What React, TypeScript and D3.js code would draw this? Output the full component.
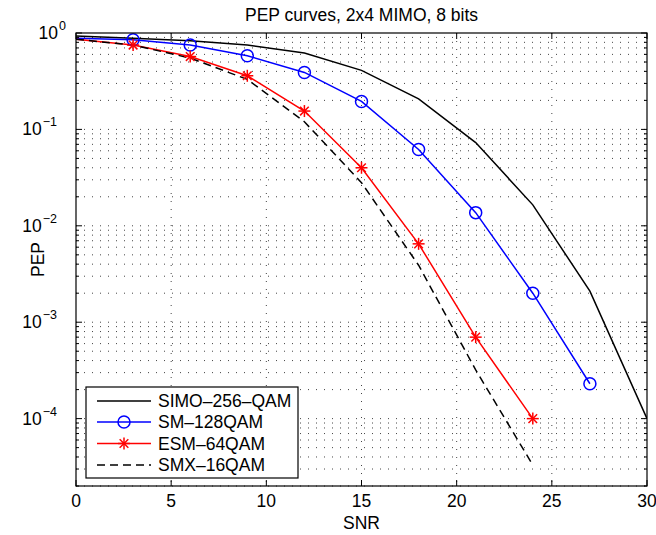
import React from 'react';
import * as d3 from 'd3';

// SNR values
const snrSimo = [0, 3, 6, 9, 12, 15, 18, 21, 24, 27, 30];
const simo = [0.93, 0.88, 0.83, 0.75, 0.62, 0.41, 0.207, 0.073, 0.0165, 0.0021, 0.0001];

const snrSm = [0, 3, 6, 9, 12, 15, 18, 21, 24, 27];
const sm = [0.88, 0.85, 0.75, 0.58, 0.39, 0.195, 0.062, 0.0137, 0.002, 0.00023];

const snrEsm = [0, 3, 6, 9, 12, 15, 18, 21, 24];
const esm = [0.86, 0.75, 0.57, 0.36, 0.155, 0.04, 0.0065, 0.0007, 0.0001];

const snrSmx = [0, 3, 6, 9, 12, 15, 18, 21, 24];
const smx = [0.86, 0.75, 0.55, 0.33, 0.12, 0.028, 0.0039, 0.00032, 0.000033];

const xTicks = [0, 5, 10, 15, 20, 25, 30];
const yDecades = [0, -1, -2, -3, -4];
const legendLabels = ['SIMO–256–QAM', 'SM–128QAM', 'ESM–64QAM', 'SMX–16QAM'];

const width = 656, height = 535;
const margin = { top: 33, right: 9, bottom: 49, left: 76 };
const FONT = 'Liberation Sans, Arial, sans-serif';
const FS = 17.5;

const x = d3.scaleLinear().domain([0, 30]).range([margin.left, width - margin.right]);
const y = d3.scaleLog().domain([2e-5, 1]).range([height - margin.bottom, margin.top]);

const line = d3.line<[number, number]>().x(d => x(d[0])).y(d => y(d[1]));
const zip = (a: number[], b: number[]) => a.map((v, i) => [v, b[i]] as [number, number]);

const Star = ({ cx, cy, r = 6, color }: { cx: number; cy: number; r?: number; color: string }) => {
  const d = r * 0.72;
  return (
    <g stroke={color} strokeWidth={1.5}>
      <line x1={cx - r} x2={cx + r} y1={cy} y2={cy} />
      <line x1={cx} x2={cx} y1={cy - r} y2={cy + r} />
      <line x1={cx - d} x2={cx + d} y1={cy - d} y2={cy + d} />
      <line x1={cx - d} x2={cx + d} y1={cy + d} y2={cy - d} />
    </g>
  );
};

export default function App() {
  const [x0, x1] = x.range();
  const [yb, yt] = y.range();

  // minor y grid values
  const minors: number[] = [];
  for (let k = -5; k <= -1; k++) {
    for (let m = 2; m <= 9; m++) {
      const v = m * Math.pow(10, k);
      if (v >= 2e-5 && v < 1) minors.push(v);
    }
  }
  const majors = yDecades.map(e => Math.pow(10, e));

  const grid = { stroke: '#444', strokeWidth: 1, strokeDasharray: '1,7' };

  const legX = 86, legY = 387, legW = 212, legH = 91;
  const rowY = [401, 422, 443.5, 465];

  return (
    <div style={{ position: 'absolute', left: 0, top: 0 }}>
      <svg width={width} height={height} style={{ display: 'block', background: '#fff' }} fontFamily={FONT}>
        <defs>
          <clipPath id="plot">
            <rect x={x0} y={yt} width={x1 - x0} height={yb - yt} />
          </clipPath>
        </defs>
        <rect x={x0} y={yt} width={x1 - x0} height={yb - yt} fill="#fff" />

        {/* grid */}
        {xTicks.slice(1, -1).map(t => (
          <line key={'gx' + t} x1={x(t)} x2={x(t)} y1={yt} y2={yb} {...grid} />
        ))}
        {[...minors, ...majors.slice(1)].map(v => (
          <line key={'gy' + v} x1={x0} x2={x1} y1={y(v)} y2={y(v)} {...grid} />
        ))}

        {/* series */}
        <g clipPath="url(#plot)" fill="none">
          <path d={line(zip(snrSimo, simo)) || ''} stroke="#000" strokeWidth={1.5} />
          <path d={line(zip(snrSm, sm)) || ''} stroke="#0000ff" strokeWidth={1.5} />
          <path d={line(zip(snrEsm, esm)) || ''} stroke="#ff0000" strokeWidth={1.5} />
          <path d={line(zip(snrSmx, smx)) || ''} stroke="#000" strokeWidth={1.5} strokeDasharray="8,5" />
        </g>
        {snrSm.slice(1).map((s, i) => (
          <circle key={'c' + s} cx={x(s)} cy={y(sm[i + 1])} r={6} fill="none" stroke="#0000ff" strokeWidth={1.5} />
        ))}
        {snrEsm.slice(1).map((s, i) => (
          <Star key={'s' + s} cx={x(s)} cy={y(esm[i + 1])} color="#ff0000" />
        ))}

        {/* ticks */}
        {xTicks.map(t => (
          <g key={'xt' + t} stroke="#000">
            <line x1={x(t)} x2={x(t)} y1={yb} y2={yb - 6} />
            <line x1={x(t)} x2={x(t)} y1={yt} y2={yt + 6} />
          </g>
        ))}
        {majors.map(v => (
          <g key={'ytM' + v} stroke="#000">
            <line x1={x0} x2={x0 + 6} y1={y(v)} y2={y(v)} />
            <line x1={x1} x2={x1 - 6} y1={y(v)} y2={y(v)} />
          </g>
        ))}
        {minors.map(v => (
          <g key={'ytm' + v} stroke="#000">
            <line x1={x0} x2={x0 + 3} y1={y(v)} y2={y(v)} />
            <line x1={x1} x2={x1 - 3} y1={y(v)} y2={y(v)} />
          </g>
        ))}

        {/* frame */}
        <rect x={x0} y={yt} width={x1 - x0} height={yb - yt} fill="none" stroke="#000" strokeWidth={1.2} />

        {/* tick labels */}
        {xTicks.map(t => (
          <text key={'xl' + t} x={x(t)} y={yb + 21} textAnchor="middle" fontSize={FS}>{t}</text>
        ))}
        {yDecades.map(e => (
          <text key={'yl' + e} x={e === 0 ? 66 : 57} y={y(Math.pow(10, e)) + 6} textAnchor="end" fontSize={FS}>
            10
            <tspan dx={1} dy={-9} fontSize={12.5} textAnchor="start">{e === 0 ? '0' : '−' + Math.abs(e)}</tspan>
          </text>
        ))}

        {/* titles */}
        <text x={(x0 + x1) / 2} y={21} textAnchor="middle" fontSize={FS}>PEP curves, 2x4 MIMO, 8 bits</text>
        <text x={(x0 + x1) / 2} y={529} textAnchor="middle" fontSize={FS}>SNR</text>
        <text transform={`translate(44,${(yb + yt) / 2}) rotate(-90)`} textAnchor="middle" fontSize={FS}>PEP</text>

        {/* legend */}
        <rect x={legX} y={legY} width={legW} height={legH} fill="#fff" stroke="#000" strokeWidth={1.2} />
        {legendLabels.map((lab, i) => {
          const ly = rowY[i];
          const lx0 = 97, lx1 = 151, mx = (lx0 + lx1) / 2;
          const color = i === 1 ? '#0000ff' : i === 2 ? '#ff0000' : '#000';
          return (
            <g key={lab}>
              <line x1={lx0} x2={lx1} y1={ly} y2={ly} stroke={color} strokeWidth={1.5}
                strokeDasharray={i === 3 ? '8,5' : undefined} />
              {i === 1 && <circle cx={mx} cy={ly} r={6} fill="none" stroke={color} strokeWidth={1.5} />}
              {i === 2 && <Star cx={mx} cy={ly} color={color} />}
              <text x={158} y={ly + 6} fontSize={FS}>{lab}</text>
            </g>
          );
        })}
      </svg>
    </div>
  );
}
